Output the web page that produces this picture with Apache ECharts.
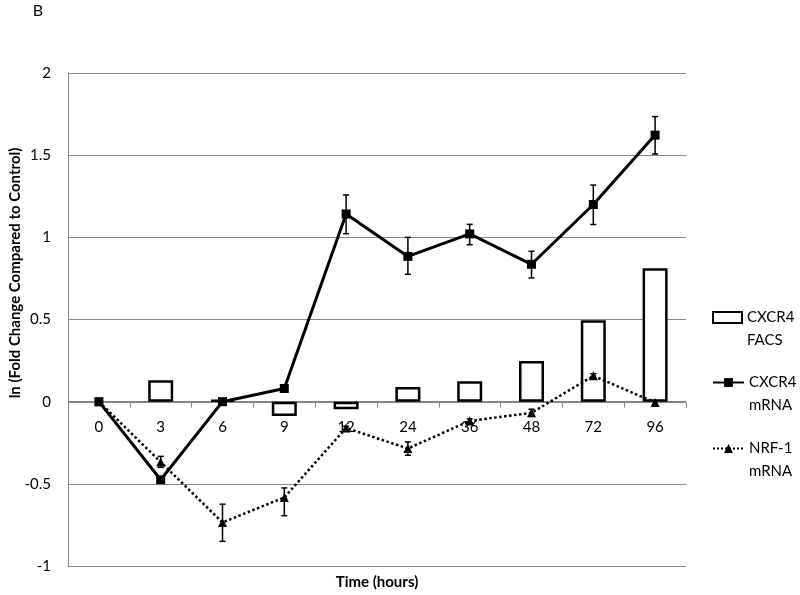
<!DOCTYPE html>
<html>
<head>
<meta charset="utf-8">
<script src="https://cdn.jsdelivr.net/npm/echarts@6/dist/echarts.min.js"></script>
<style>
html,body{margin:0;padding:0;background:#fff;}
#chart{width:800px;height:595px;}
</style>
</head>
<body>
<div id="chart"></div>
<script>
// ---- data ----
var categories = ['0','3','6','9','12','24','36','48','72','96'];
var facsValues = [null, 0.13, 0.012, -0.087, -0.046, 0.09, 0.125, 0.247, 0.496, 0.812];
var cxcr4Values = [0, -0.475, 0, 0.08, 1.142, 0.884, 1.021, 0.836, 1.2, 1.622];
var cxcr4Low  = [null, -0.49, null, null, 1.022, 0.775, 0.955, 0.753, 1.078, 1.507];
var cxcr4High = [null, -0.46, null, null, 1.258, 1.0, 1.079, 0.915, 1.318, 1.735];
var nrfValues = [0, -0.367, -0.735, -0.583, -0.16, -0.285, -0.117, -0.068, 0.157, -0.005];
var nrfLow  = [null, -0.40, -0.85, -0.694, -0.17, -0.326, -0.13, -0.09, 0.145, null];
var nrfHigh = [null, -0.333, -0.624, -0.525, -0.15, -0.245, -0.105, -0.046, 0.17, null];
var yTicks = {min: -1, max: 2, interval: 0.5};
var seriesNames = ['CXCR4 FACS', 'CXCR4 mRNA', 'NRF-1 mRNA'];
var yTitle = 'ln (Fold Change Compared to Control)';
var xTitle = 'Time (hours)';
var panelLabel = 'B';

function errData(low, high) {
  var out = [];
  for (var i = 0; i < categories.length; i++) {
    if (low[i] != null && high[i] != null) out.push([i, low[i], high[i]]);
  }
  return out;
}

function errRender(params, api) {
  var x = api.value(0);
  var lo = api.coord([x, api.value(1)]);
  var hi = api.coord([x, api.value(2)]);
  var cap = 3;
  var st = {stroke: '#000', lineWidth: 1.5};
  return {
    type: 'group',
    children: [
      {type: 'line', shape: {x1: lo[0], y1: lo[1], x2: hi[0], y2: hi[1]}, style: st},
      {type: 'line', shape: {x1: lo[0]-cap, y1: lo[1], x2: lo[0]+cap, y2: lo[1]}, style: st},
      {type: 'line', shape: {x1: hi[0]-cap, y1: hi[1], x2: hi[0]+cap, y2: hi[1]}, style: st}
    ]
  };
}

var FONT = 'Lato, "Open Sans", sans-serif';
var chart = echarts.init(document.getElementById('chart'), null, {renderer: 'canvas'});

var legendText = {
  fontFamily: FONT, fontSize: 15, color: '#000',
  rich: {t: {fontFamily: FONT, fontSize: 15, color: '#000', lineHeight: 23}}
};
// blank first line keeps the icon level with the first word
function legendFmt(name) {
  var p = name.split(' ');
  return '{t| }\n{t|' + p[0] + '}\n{t|' + p[1] + '}';
}

var option = {
  backgroundColor: '#fff',
  animation: false,
  grid: {left: 68, right: 114, top: 73, bottom: 29, containLabel: false},
  legend: [
    {orient: 'vertical', left: 712, top: 287, padding: 0, itemWidth: 29, itemHeight: 11,
     data: [{name: seriesNames[0], icon: 'rect'}], formatter: legendFmt, textStyle: legendText, selectedMode: false},
    {orient: 'vertical', left: 712, top: 352, padding: 0, itemWidth: 31, itemHeight: 11,
     data: [seriesNames[1]], formatter: legendFmt, textStyle: legendText, selectedMode: false},
    {orient: 'vertical', left: 712, top: 418, padding: 0, itemWidth: 31, itemHeight: 11,
     data: [seriesNames[2]], formatter: legendFmt, textStyle: legendText, selectedMode: false}
  ],
  xAxis: {
    type: 'category',
    data: categories,
    position: 'bottom',
    offset: 0,
    axisLine: {show: true, onZero: false, lineStyle: {color: '#868686', width: 1}},
    axisTick: {show: true, length: 5, lineStyle: {color: '#868686'}},
    axisLabel: {margin: 17, fontFamily: FONT, fontSize: 15, color: '#000'},
    splitLine: {show: false}
  },
  yAxis: {
    type: 'value',
    min: yTicks.min, max: yTicks.max, interval: yTicks.interval,
    axisLine: {show: true, onZero: false, lineStyle: {color: '#868686', width: 1}},
    axisTick: {show: false},
    axisLabel: {margin: 17, fontFamily: FONT, fontSize: 15, color: '#000'},
    splitLine: {show: true, lineStyle: {color: '#868686', width: 1}}
  },
  graphic: [
    {type: 'text', x: 38, y: 11, style: {text: panelLabel, fontFamily: FONT, fontSize: 16, fill: '#000', align: 'center', verticalAlign: 'middle'}},
    {type: 'text', x: 377, y: 582, style: {text: xTitle, fontFamily: FONT, fontWeight: 'bold', fontSize: 15, fill: '#000', align: 'center', verticalAlign: 'middle'}},
    {type: 'text', x: 15, y: 273, rotation: Math.PI / 2, style: {text: yTitle, fontFamily: FONT, fontWeight: 'bold', fontSize: 15, fill: '#000', align: 'center', verticalAlign: 'middle'}}
  ],
  series: [
    {
      name: seriesNames[0], type: 'bar', data: facsValues, barWidth: 25,
      itemStyle: {color: '#fff', borderColor: '#000', borderWidth: 2.5},
      z: 2
    },
    {
      name: seriesNames[1], type: 'line', data: cxcr4Values,
      symbol: 'rect', symbolSize: 9, showAllSymbol: true,
      itemStyle: {color: '#000'},
      lineStyle: {color: '#000', width: 3},
      z: 4
    },
    {
      name: seriesNames[2], type: 'line', data: nrfValues,
      symbol: 'triangle', symbolSize: 9, showAllSymbol: true,
      itemStyle: {color: '#000'},
      lineStyle: {color: '#000', width: 2.5, type: 'dotted'},
      z: 3
    },
    {
      type: 'custom', data: errData(cxcr4Low, cxcr4High), renderItem: errRender,
      encode: {x: 0, y: [1, 2]}, z: 5, silent: true
    },
    {
      type: 'custom', data: errData(nrfLow, nrfHigh), renderItem: errRender,
      encode: {x: 0, y: [1, 2]}, z: 5, silent: true
    }
  ]
};
chart.setOption(option);

// Place the category axis on the zero line of the value axis (as in the reference)
var zeroY = chart.convertToPixel({yAxisIndex: 0}, 0);
var bottomY = chart.convertToPixel({yAxisIndex: 0}, yTicks.min);
chart.setOption({xAxis: {offset: zeroY - bottomY}});
</script>
</body>
</html>
